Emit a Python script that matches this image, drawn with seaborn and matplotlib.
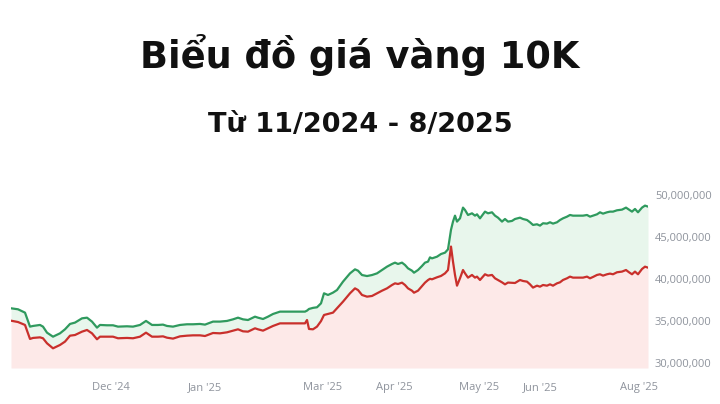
import numpy as np
import pandas as pd
import matplotlib.pyplot as plt
import seaborn as sns

# --- Data: gia ban (xanh) va gia mua (do), trieu dong / luong ---
# t = vi tri mau tren truc thoi gian (chi so ngay)
t = [0, 7, 14, 19, 22, 29, 32, 36, 42, 49, 54, 59, 64, 71, 76, 81, 86, 89, 96, 102,
     107, 116, 122, 129, 135, 141, 147, 152, 156, 162, 169, 176, 182, 189, 194, 202,
     209, 216, 222, 227, 232, 237,
     244, 247, 252, 257, 262, 269, 279, 289, 294, 296, 298, 302, 306, 310, 313, 317,
     322, 326, 332, 339,
     344, 347, 351, 356, 361, 366, 371, 376, 381, 384, 387, 391, 394, 397, 401, 403,
     407, 411, 414, 417, 419, 421, 426, 430, 434, 437,
     440, 442, 444, 446, 449, 452, 454, 457, 461, 464, 466, 469, 474, 477, 481, 484,
     487, 491, 494, 497, 501, 504, 509, 512, 516, 519, 522, 526, 529, 532, 536, 539,
     542, 546, 549, 552, 556, 559, 562, 567, 572, 576, 579, 582, 586, 589, 592, 596,
     599, 602, 606, 611, 615, 618, 621, 624, 627, 631, 634, 637]

sell = [36.53, 36.41, 36.01, 34.34, 34.42, 34.54, 34.34, 33.62, 33.14, 33.54, 34.02,
        34.66, 34.82, 35.33, 35.41, 34.94, 34.22, 34.54, 34.50, 34.50, 34.34, 34.38,
        34.34, 34.54, 35.02, 34.54, 34.54, 34.58, 34.42, 34.34, 34.54, 34.62, 34.62,
        34.66, 34.58, 34.94, 34.94, 35.02, 35.21, 35.41, 35.21, 35.13,
        35.53, 35.41, 35.25, 35.53, 35.85, 36.13, 36.13, 36.13, 36.13, 36.25, 36.45,
        36.58, 36.65, 37.12, 38.32, 38.12, 38.40, 38.71, 39.71, 40.70,
        41.18, 41.02, 40.50, 40.38, 40.50, 40.70, 41.10, 41.50, 41.82, 41.98, 41.82,
        41.98, 41.70, 41.30, 41.02, 40.78, 41.10, 41.58, 41.98, 42.10, 42.61, 42.49,
        42.69, 43.01, 43.17, 43.57,
        45.90, 46.88, 47.59, 46.88, 47.27, 48.55, 48.27, 47.67, 47.87, 47.59, 47.75,
        47.27, 48.07, 47.87, 47.99, 47.59, 47.35, 46.88, 47.19, 46.88, 46.96, 47.19,
        47.35, 47.19, 47.07, 46.80, 46.48, 46.56, 46.40, 46.68, 46.64, 46.80, 46.64,
        46.80, 47.07, 47.27, 47.47, 47.67, 47.59, 47.59, 47.59, 47.67, 47.47, 47.59,
        47.75, 47.99, 47.83, 47.99, 48.07, 48.07, 48.23, 48.31, 48.55, 48.31, 48.07,
        48.39, 47.99, 48.55, 48.79, 48.67]

buy = [35.05, 34.89, 34.54, 32.87, 32.99, 33.06, 32.95, 32.35, 31.75, 32.15, 32.55,
       33.26, 33.34, 33.74, 33.94, 33.54, 32.83, 33.14, 33.14, 33.14, 32.95, 32.99,
       32.95, 33.14, 33.62, 33.14, 33.14, 33.18, 33.02, 32.91, 33.18, 33.26, 33.30,
       33.30, 33.22, 33.58, 33.54, 33.66, 33.86, 34.02, 33.78, 33.74,
       34.14, 34.02, 33.86, 34.14, 34.42, 34.73, 34.73, 34.73, 34.73, 35.13, 34.06,
       34.02, 34.34, 35.00, 35.73, 35.85, 36.01, 36.53, 37.32, 38.32,
       38.91, 38.71, 38.12, 37.92, 38.00, 38.31, 38.63, 38.91, 39.31, 39.51, 39.43,
       39.59, 39.31, 38.91, 38.63, 38.39, 38.63, 39.19, 39.59, 39.90, 40.05, 39.99,
       40.23, 40.39, 40.70, 41.10,
       43.90, 42.10, 40.51, 39.23, 40.11, 41.10, 40.71, 40.19, 40.51, 40.19, 40.31,
       39.91, 40.59, 40.43, 40.51, 40.11, 39.91, 39.63, 39.39, 39.60, 39.57, 39.55,
       39.91, 39.79, 39.71, 39.39, 39.00, 39.23, 39.11, 39.31, 39.23, 39.39, 39.23,
       39.51, 39.63, 39.91, 40.11, 40.31, 40.19, 40.19, 40.19, 40.31, 40.11, 40.27,
       40.51, 40.59, 40.43, 40.59, 40.67, 40.59, 40.83, 40.91, 41.10, 40.83, 40.59,
       40.91, 40.59, 41.22, 41.50, 41.38]

tick_pos = [100, 194, 312, 383, 468, 529, 628]
tick_labels = ["Dec '24", "Jan '25", "Mar '25", "Apr '25", "May '25", "Jun '25", "Aug '25"]
y_ticks = [30_000_000, 35_000_000, 40_000_000, 45_000_000, 50_000_000]

df = pd.DataFrame({"t": t,
                   "sell": np.array(sell) * 1e6,
                   "buy": np.array(buy) * 1e6})

GREEN = "#2f9a5e"
RED = "#c9302c"
GREY = "#8e939c"
Y_MIN, Y_MAX = 29_400_000, 51_000_000

sns.set_theme(style="white")
plt.rcParams["font.family"] = ["Open Sans", "DejaVu Sans"]

fig = plt.figure(figsize=(7.2, 4.04), dpi=100)
ax = fig.add_axes([11 / 720, 0.0891, 637 / 720, 0.4478])

# vung to mau
ax.fill_between(df["t"], df["buy"], df["sell"], color="#e8f6ec", linewidth=0)
ax.fill_between(df["t"], Y_MIN, df["buy"], color="#fde9e8", linewidth=0)

sns.lineplot(data=df, x="t", y="sell", color=GREEN, linewidth=1.6, ax=ax)
sns.lineplot(data=df, x="t", y="buy", color=RED, linewidth=1.6, ax=ax)

ax.set_xlim(0, 637)
ax.set_ylim(Y_MIN, Y_MAX)
ax.set_xticks(tick_pos)
ax.set_xticklabels(tick_labels)
ax.set_yticks(y_ticks)
ax.set_yticklabels([f"{v:,}" for v in y_ticks])
ax.yaxis.tick_right()
ax.tick_params(axis="both", length=0, labelsize=8, colors=GREY)
ax.tick_params(axis="y", pad=5)
ax.tick_params(axis="x", pad=10)
ax.set_xlabel("")
ax.set_ylabel("")
sns.despine(ax=ax, left=True, bottom=True, top=True, right=True)

# tieu de (chu rong nhu anh goc)
fig.text(0.5, 0.831, "Biểu đồ giá vàng 10K", ha="center", va="baseline",
         fontsize=26.5, fontweight="bold", color="#111111", family="DejaVu Sans")
fig.text(0.5, 0.674, "Từ 11/2024 - 8/2025", ha="center", va="baseline",
         fontsize=19.5, fontweight="bold", color="#111111", family="DejaVu Sans")

fig.savefig("out.png", dpi=100)
